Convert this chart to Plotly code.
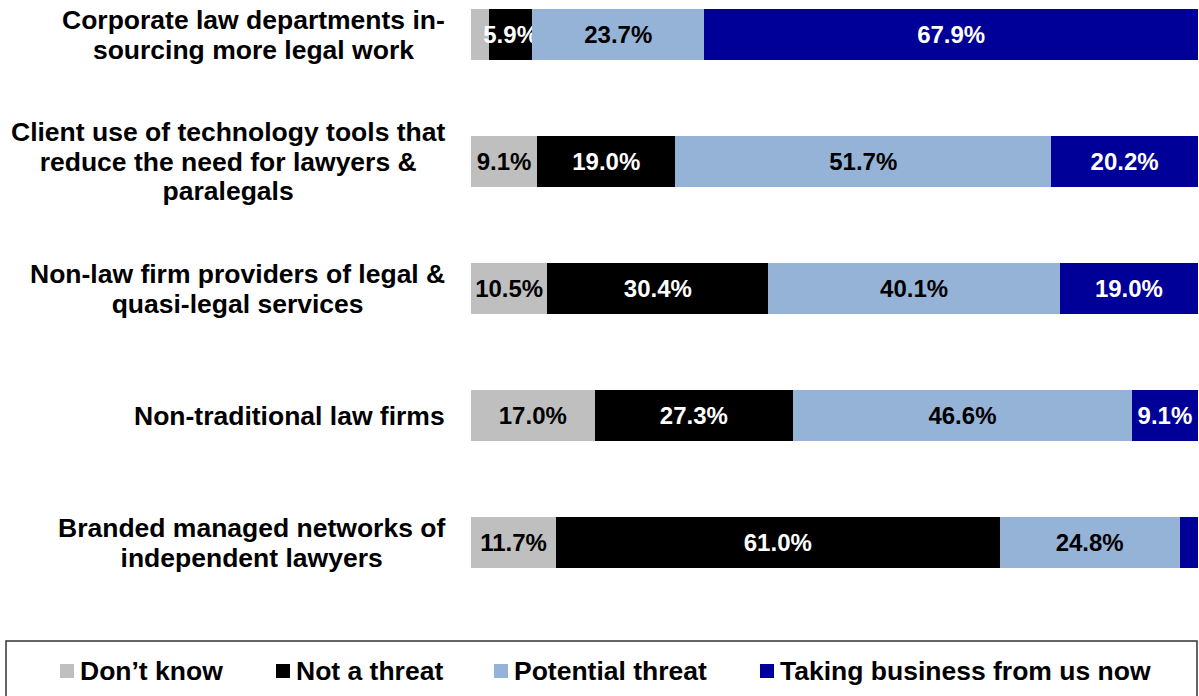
import plotly.graph_objects as go

# Survey: perceived threats from alternative legal service providers
categories = [
    "Corporate law departments in-<br>sourcing more legal work",
    "Client use of technology tools that<br>reduce the need for lawyers &<br>paralegals",
    "Non-law firm providers of legal &<br>quasi-legal services",
    "Non-traditional law firms",
    "Branded managed networks of<br>independent lawyers",
]
series_names = ["Don\u2019t know", "Not a threat", "Potential threat", "Taking business from us now"]
dont_know = [2.5, 9.1, 10.5, 17.0, 11.7]
not_a_threat = [5.9, 19.0, 30.4, 27.3, 61.0]
potential_threat = [23.7, 51.7, 40.1, 46.6, 24.8]
taking_business = [67.9, 20.2, 19.0, 9.1, 2.5]

series_values = [dont_know, not_a_threat, potential_threat, taking_business]
colors = ["#BFBFBF", "#000000", "#95B3D7", "#000099"]
text_colors = ["#000000", "#FFFFFF", "#000000", "#FFFFFF"]

FONT = "Liberation Sans, Arial, sans-serif"
W, H = 1199, 696
ML, MR, MT, MB = 471, 1, 0, 96
PW, PH = W - ML - MR, H - MT - MB
ROW_PITCH = 127.0      # pixels between bar centres
FIRST_ROW = 34.5       # pixel centre of the first bar
LABEL_SIZE = 26.5      # category label glyph size
LABEL_LEADING = 29.5   # distance between label lines


def px2x(px):
    return (px - ML) / PW


def py2y(py):
    return (H - MB - py) / PH


y_pos = list(range(len(categories)))
y_top = -FIRST_ROW / ROW_PITCH
y_bottom = y_top + PH / ROW_PITCH

fig = go.Figure()
for name, vals, col, tcol in zip(series_names, series_values, colors, text_colors):
    fig.add_trace(go.Bar(
        y=y_pos,
        x=vals,
        name=name,
        orientation="h",
        width=0.4,
        marker=dict(color=col, line=dict(width=0)),
        text=[f"{v:.1f}%" if v >= 3 else "" for v in vals],
        textposition="inside",
        insidetextanchor="middle",
        textangle=0,
        constraintext="none",
        textfont=dict(family=FONT, size=24, color=tcol, weight="bold"),
        hoverinfo="skip",
        showlegend=False,
    ))

# Category labels: lines centred on each other, block right-aligned.
# The base font sets the line leading; each line is drawn at the label size.
for yi, label in zip(y_pos, categories):
    lines = label.split("<br>")
    text = "<br>".join(f"<span style='font-size:{LABEL_SIZE}px'>{ln}</span>" for ln in lines)
    fig.add_annotation(
        x=px2x(447), xref="paper", y=yi, yref="y",
        text=text, showarrow=False,
        xanchor="right", yanchor="middle", align="center",
        font=dict(family=FONT, size=LABEL_LEADING / 1.3, color="#000000", weight="bold"),
    )

# Legend box and entries
fig.add_shape(type="rect", xref="paper", yref="paper",
              x0=px2x(6), x1=px2x(1197), y0=py2y(641), y1=py2y(705),
              line=dict(color="#333333", width=1.5), fillcolor="rgba(0,0,0,0)")
legend_marker_px = [60, 276, 494, 760]
legend_mid_py = 671
for name, col, mx in zip(series_names, colors, legend_marker_px):
    fig.add_shape(type="rect", xref="paper", yref="paper",
                  x0=px2x(mx), x1=px2x(mx + 14),
                  y0=py2y(legend_mid_py + 7), y1=py2y(legend_mid_py - 7),
                  line=dict(width=0), fillcolor=col)
    fig.add_annotation(
        x=px2x(mx + 18), xref="paper", y=py2y(legend_mid_py), yref="paper",
        text=name, showarrow=False, xanchor="left", yanchor="middle",
        font=dict(family=FONT, size=26.5, color="#000000", weight="bold"),
    )

fig.update_layout(
    barmode="stack",
    width=W, height=H,
    margin=dict(l=ML, r=MR, t=MT, b=MB, pad=0),
    paper_bgcolor="#FFFFFF",
    plot_bgcolor="#FFFFFF",
    showlegend=False,
    xaxis=dict(range=[0, 100], visible=False, fixedrange=True),
    yaxis=dict(range=[y_bottom, y_top], visible=False, fixedrange=True),
)

fig.write_html("out.html", config={"displayModeBar": False})
